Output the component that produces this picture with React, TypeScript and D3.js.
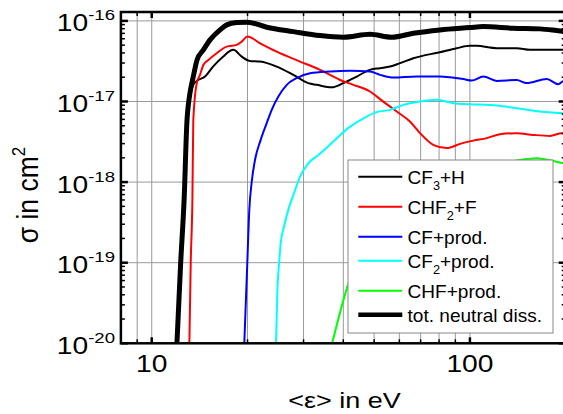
import React from "react";
import * as d3 from "d3";

// ---- data (energy in eV, cross section in cm^2) ----
const totalE = [12.0, 12.33, 12.64, 12.91, 13.0, 13.19, 13.51, 13.88, 14.53, 15.25, 16.39, 17.21, 18.5, 20.0, 22.98, 27.86, 33.8, 40.0, 48.5, 56.8, 66.4, 80.5, 100, 110, 136.6, 166, 192, 200];
const totalS = [1e-20, 1e-19, 6e-19, 5.9e-18, 8.3e-18, 1.28e-17, 2.04e-17, 3.28e-17, 4.37e-17, 5.81e-17, 7.73e-17, 8.92e-17, 9.53e-17, 9.64e-17, 8.35e-17, 7.36e-17, 6.57e-17, 6.28e-17, 6.84e-17, 6.28e-17, 7.03e-17, 7.73e-17, 8.26e-17, 8.5e-17, 8.12e-17, 7.96e-17, 7.51e-17, 7.4e-17];

const cf3hE = [12.0, 12.33, 12.64, 12.91, 13.2, 13.5, 13.85, 14.71, 15.58, 16.75, 18.05, 19.18, 20.3, 21.9, 24.7, 27.86, 31.05, 33.0, 36.8, 40, 44.1, 48.5, 52.2, 56.1, 60.3, 66.4, 80.5, 90.9, 100, 104.9, 121.4, 140.3, 154.5, 194.3, 200];
const cf3hS = [1e-20, 1e-19, 6e-19, 5.5e-18, 1.2e-17, 1.6e-17, 1.8e-17, 2.04e-17, 2.71e-17, 3.6e-17, 4.37e-17, 3.6e-17, 3.19e-17, 3.13e-17, 2.71e-17, 2.14e-17, 1.69e-17, 1.61e-17, 1.5e-17, 1.69e-17, 2.04e-17, 2.47e-17, 2.59e-17, 2.71e-17, 2.99e-17, 3.44e-17, 4.09e-17, 4.58e-17, 4.9e-17, 4.9e-17, 4.58e-17, 4.58e-17, 4.37e-17, 4.37e-17, 4.37e-17];

const chf2fE = [13.13, 13.26, 13.42, 13.51, 13.85, 14.18, 14.53, 15.07, 16.0, 17.21, 18.5, 19.18, 20.0, 21.9, 24.7, 29.25, 33.8, 39.07, 43.0, 48.5, 53.4, 58.9, 64.8, 69.7, 76.7, 84.6, 93.1, 102.5, 113, 124.3, 140.3, 158.2, 178.6, 194.3, 200];
const chf2fS = [1e-20, 1e-19, 6e-19, 5.9e-18, 1.69e-17, 2.14e-17, 2.84e-17, 3.28e-17, 3.97e-17, 4.8e-17, 5.04e-17, 5.53e-17, 6.38e-17, 5.28e-17, 4.16e-17, 3.13e-17, 2.47e-17, 1.85e-17, 1.61e-17, 1.33e-17, 9.97e-18, 7.5e-18, 5.64e-18, 4.05e-18, 2.9e-18, 2.64e-18, 2.98e-18, 3.27e-18, 3.51e-18, 3.93e-18, 4.04e-18, 3.85e-18, 3.74e-18, 4.04e-18, 4.0e-18];

const cfE = [19.54, 19.97, 20.26, 20.62, 21.11, 22.0, 22.98, 23.83, 25.0, 26.57, 28.56, 31.45, 36.3, 42.0, 48.5, 52.2, 57.4, 68.1, 80.5, 86.6, 95.3, 101.3, 110.2, 121.4, 140.3, 150.8, 174.3, 189.6, 195.7, 200];
const cfS = [1e-20, 1e-19, 4.52e-19, 1.01e-18, 1.88e-18, 3.34e-18, 5.38e-18, 7.87e-18, 1.15e-17, 1.61e-17, 1.95e-17, 2.24e-17, 2.35e-17, 2.4e-17, 2.35e-17, 2.14e-17, 1.98e-17, 2.04e-17, 2.04e-17, 2.0e-17, 1.9e-17, 1.82e-17, 2.04e-17, 1.8e-17, 1.85e-17, 1.69e-17, 1.9e-17, 1.64e-17, 1.77e-17, 1.8e-17];

const cf2E = [24.58, 24.81, 25.18, 25.43, 26.05, 26.87, 28.0, 29.25, 31.05, 33.4, 37.2, 41.4, 47.4, 50.9, 56.1, 61.8, 69.7, 78.6, 88.7, 100, 121.4, 140.3, 166, 195.7, 200];
const cf2S = [1e-20, 4.19e-20, 1.08e-19, 1.75e-19, 2.81e-19, 4.52e-19, 7.28e-19, 1.17e-18, 1.71e-18, 2.17e-18, 3.18e-18, 4.67e-18, 6.5e-18, 7.37e-18, 7.87e-18, 9.08e-18, 9.97e-18, 1.05e-17, 9.53e-18, 9.26e-18, 8.9e-18, 8.26e-18, 7.5e-18, 7.16e-18, 7.1e-18];

const chfE = [36.9, 41.2, 50, 60, 80, 100, 130, 150, 162.1, 180.7, 194.8, 200];
const chfS = [1e-20, 5.05e-20, 2.5e-19, 6e-19, 1.1e-18, 1.4e-18, 1.75e-18, 1.93e-18, 1.98e-18, 1.85e-18, 1.73e-18, 1.7e-18];

const seriesLabels = ["CF_3+H", "CHF_2+F", "CF+prod.", "CF_2+prod.", "CHF+prod.", "tot. neutral diss."];
const seriesColors = ["#000000", "#ff0000", "#0000ff", "#00ffff", "#00ff00", "#000000"];
const seriesWidths = [2, 2, 2, 2, 2, 5];
const seriesData = [
  [cf3hE, cf3hS],
  [chf2fE, chf2fS],
  [cfE, cfS],
  [cf2E, cf2S],
  [chfE, chfS],
  [totalE, totalS],
];

const xGrid = [9, 10, 20, 30, 40, 50, 60, 70, 80, 90, 100];
const xTickLabels = [10, 100];
const yDecades = [-20, -19, -18, -17, -16];

const FONT = "'Liberation Sans', Arial, Helvetica, sans-serif";
const STRETCH = 1.2;

function parseLabel(s: string) {
  const parts: { t: string; sub: boolean }[] = [];
  const re = /_(\d)/g;
  let last = 0;
  let m: RegExpExecArray | null;
  while ((m = re.exec(s))) {
    if (m.index > last) parts.push({ t: s.slice(last, m.index), sub: false });
    parts.push({ t: m[1], sub: true });
    last = m.index + m[0].length;
  }
  if (last < s.length) parts.push({ t: s.slice(last), sub: false });
  return parts;
}

export default function App() {
  const W = 563, H = 414;
  const left = 120.9, right = 565.7, top = 12, bottom = 343.3;
  const x = d3.scaleLog().domain([8, 200]).range([left, right]);
  const y = d3.scaleLog().domain([1e-20, 1.289e-16]).range([bottom, top]);

  const line = d3
    .line<[number, number]>()
    .x((d) => x(d[0]))
    .y((d) => y(d[1]))
    .curve(d3.curveMonotoneX);

  const minorY: number[] = [];
  for (let e = -20; e < -15; e++) {
    for (let k = 2; k <= 9; k++) {
      const v = k * Math.pow(10, e);
      if (v <= 1.289e-16) minorY.push(v);
    }
  }

  // legend layout
  const lgX = 348, lgY = 160, lgW = 205, lgH = 173;
  const rowYs: number[] = [];
  let ry = 176.7;
  seriesLabels.forEach((lab) => {
    rowYs.push(ry);
    ry += 24 + (lab.includes("_") ? 6 : 0);
  });

  return (
    <svg
      width={W}
      height={H}
      style={{ position: "absolute", left: 0, top: 0, background: "#fff" }}
      fontFamily={FONT}
    >
      <defs>
        <clipPath id="plotclip">
          <rect x={left} y={top} width={right - left} height={bottom - top} />
        </clipPath>
      </defs>
      <rect x={0} y={0} width={W} height={H} fill="#fff" />
      {/* grid */}
      <g stroke="#999" strokeWidth={1}>
        {xGrid.map((v) => (
          <line key={"gx" + v} x1={x(v)} x2={x(v)} y1={top} y2={bottom} />
        ))}
        {yDecades.slice(1).map((e) => (
          <line key={"gy" + e} x1={left} x2={right} y1={y(Math.pow(10, e))} y2={y(Math.pow(10, e))} />
        ))}
      </g>
      {/* data */}
      <g clipPath="url(#plotclip)" fill="none">
        {seriesData.map(([es, ss], i) => {
          const pts = es.map((e, j) => [e, ss[j]] as [number, number]);
          return (
            <path
              key={"s" + i}
              d={line(pts) || ""}
              stroke={seriesColors[i]}
              strokeWidth={seriesWidths[i]}
              strokeLinejoin="round"
            />
          );
        })}
      </g>
      {/* ticks */}
      <g stroke="#000">
        {xGrid.map((v) => {
          const major = v === 10 || v === 100;
          const len = major ? 6 : 4;
          const sw = major ? 2.5 : 1.5;
          return (
            <g key={"tx" + v}>
              <line x1={x(v)} x2={x(v)} y1={bottom} y2={bottom - len} strokeWidth={sw} />
              <line x1={x(v)} x2={x(v)} y1={top} y2={top + len} strokeWidth={sw} />
            </g>
          );
        })}
        {yDecades.map((e) => {
          const yy = y(Math.pow(10, e));
          return (
            <g key={"ty" + e}>
              <line x1={left} x2={left + 7} y1={yy} y2={yy} strokeWidth={2.5} />
              <line x1={right} x2={right - 7} y1={yy} y2={yy} strokeWidth={2.5} />
            </g>
          );
        })}
        {minorY.map((v, i) => (
          <g key={"my" + i}>
            <line x1={left} x2={left + 4} y1={y(v)} y2={y(v)} strokeWidth={1.5} />
            <line x1={right} x2={right - 4} y1={y(v)} y2={y(v)} strokeWidth={1.5} />
          </g>
        ))}
      </g>
      {/* frame */}
      <rect x={left} y={top} width={right - left} height={bottom - top} fill="none" stroke="#000" strokeWidth={2.5} />
      {/* y tick labels */}
      {yDecades.map((e) => (
        <g key={"yl" + e} transform={`translate(115,${y(Math.pow(10, e)) + 10.5}) scale(${STRETCH},1)`}>
          <text x={0} y={0} textAnchor="end" fontSize={23.5} fill="#000">
            10
            <tspan dy={-11} fontSize={15.5}>{String(e)}</tspan>
          </text>
        </g>
      ))}
      {/* x tick labels */}
      {xTickLabels.map((v) => (
        <g key={"xl" + v} transform={`translate(${x(v)},371.7) scale(${STRETCH},1)`}>
          <text x={0} y={0} textAnchor="middle" fontSize={23.5} fill="#000">
            {String(v)}
          </text>
        </g>
      ))}
      {/* axis titles */}
      <g transform={`translate(344.5,408) scale(${STRETCH},1)`}>
        <text x={0} y={0} textAnchor="middle" fontSize={22.5} fill="#000">
          {"<ε> in eV"}
        </text>
      </g>
      <g transform={`translate(37.5,195) scale(1.1,1) rotate(-90)`}>
        <text x={0} y={0} textAnchor="middle" fontSize={26.5} fill="#000">
          σ in cm
          <tspan dy={-11} fontSize={17}>2</tspan>
        </text>
      </g>
      {/* legend */}
      <rect x={lgX} y={lgY} width={lgW} height={lgH} fill="#fff" stroke="#888" strokeWidth={1} />
      {seriesLabels.map((lab, i) => {
        const yy = rowYs[i];
        const parts = parseLabel(lab);
        let shifted = false;
        return (
          <g key={"lg" + i}>
            <line x1={358.3} x2={402.3} y1={yy} y2={yy} stroke={seriesColors[i]} strokeWidth={seriesWidths[i] === 5 ? 4.5 : 2} />
            <g transform={`translate(407.5,${yy + 7}) scale(1.06,1)`}>
              <text x={0} y={0} fontSize={18} fill="#000">
                {parts.map((p, k) => {
                  let dy = 0;
                  if (p.sub && !shifted) { dy = 6; shifted = true; }
                  else if (!p.sub && shifted) { dy = -6; shifted = false; }
                  return (
                    <tspan key={k} dy={dy} fontSize={p.sub ? 12 : 18}>
                      {p.t}
                    </tspan>
                  );
                })}
              </text>
            </g>
          </g>
        );
      })}
    </svg>
  );
}
